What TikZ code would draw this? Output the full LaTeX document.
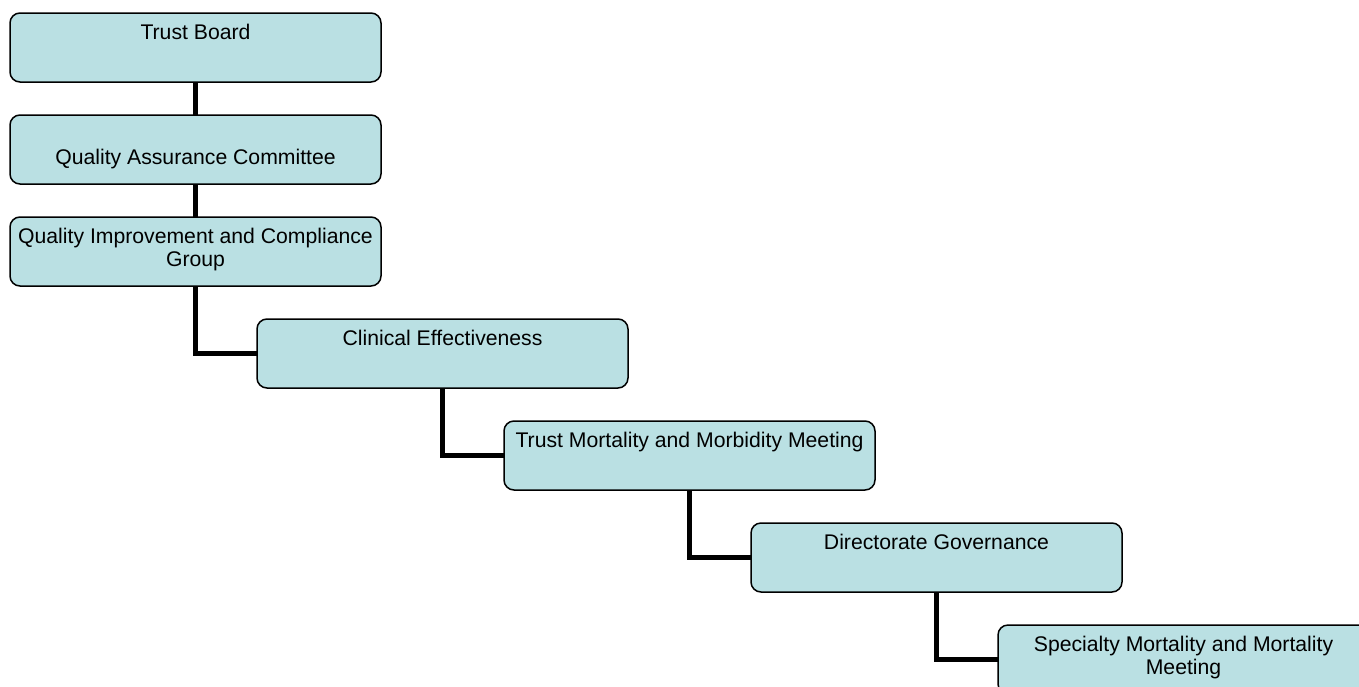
\documentclass[tikz,border=0pt]{standalone}
\usepackage{fontspec}
\setmainfont{Liberation Sans}
\usetikzlibrary{positioning}
\definecolor{boxblue}{RGB}{186,224,227}

\begin{document}
\begin{tikzpicture}[node distance=16.5pt,
		box/.style={draw,line width=0.75pt,rounded corners=5pt,fill=boxblue,
			inner sep=0pt,outer sep=0pt,font=\fontsize{10.6}{11.5}\selectfont,
			execute at begin node={\begin{minipage}[c][34.5pt][t]{185.5pt}\centering\vspace*{5pt}\strut},
			execute at end node={\end{minipage}}},
		link/.style={line width=2.5pt}]
		\clip (0,0) rectangle (679.5pt,-343pt);
		\node[box,anchor=north west](tb) at (5pt,-6.5pt){Trust Board};
		\node[box,below=of tb](qac){\mbox{}\\Quality Assurance Committee};
		\node[box,below=of qac](qic){Quality Improvement and Compliance\\Group};
		\node[box,below right=16.5pt and 30.75pt of qic.south](ce){Clinical Effectiveness};
		\node[box,below right=16.5pt and 30.75pt of ce.south](tmm){Trust Mortality and Morbidity Meeting};
		\node[box,below right=16.5pt and 30.75pt of tmm.south](dg){Directorate Governance};
		\node[box,below right=16.5pt and 30.75pt of dg.south](smm){Specialty Mortality and Mortality\\Meeting};
		\draw[link] (tb.south) -- (qac.north);
		\draw[link] (qac.south) -- (qic.north);
		\draw[link] (qic.south) |- (ce.west);
		\draw[link] (ce.south) |- (tmm.west);
		\draw[link] (tmm.south) |- (dg.west);
		\draw[link] (dg.south) |- (smm.west);
	\end{tikzpicture}
\end{document}
